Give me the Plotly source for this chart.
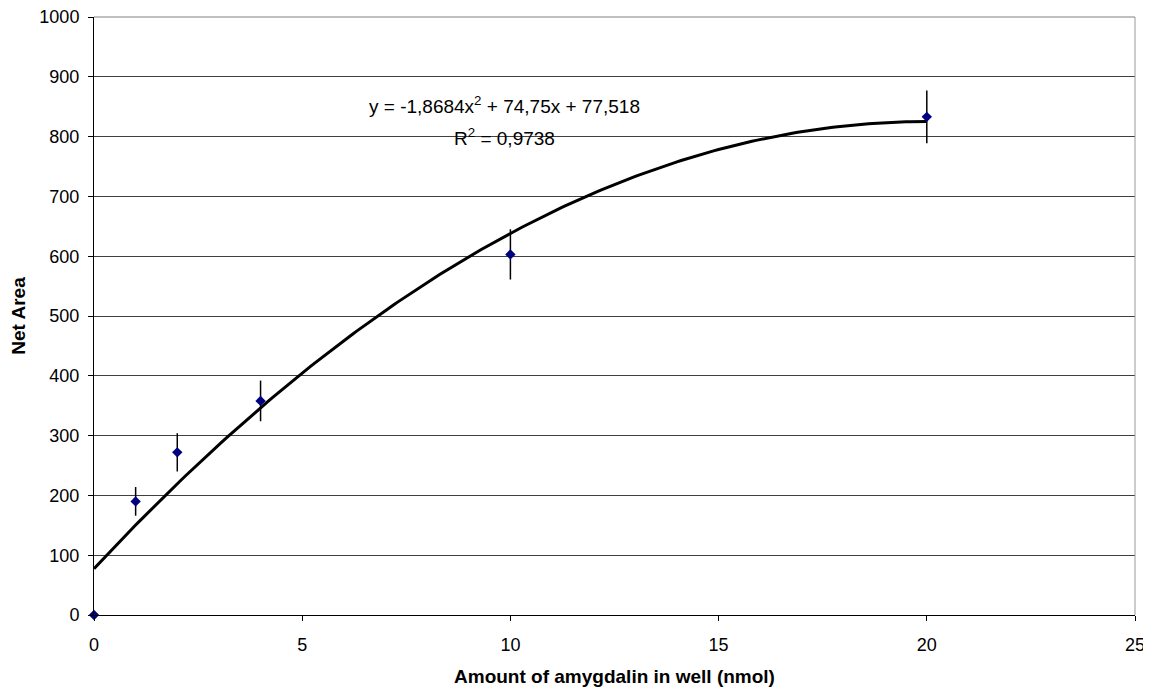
import numpy as np
import plotly.graph_objects as go

# Data
amount_nmol = [0, 1, 2, 4, 10, 20]
net_area = [0, 190, 272, 358, 603, 833]
net_area_err = [0, 24, 32, 34, 42, 44]

# Trendline coefficients (from chart label)
coef_a, coef_b, coef_c = -1.8684, 74.75, 77.518
trend_x = np.linspace(0, 20, 201)
trend_y = coef_a * trend_x**2 + coef_b * trend_x + coef_c

x_ticks = [0, 5, 10, 15, 20, 25]
y_ticks = list(range(0, 1001, 100))

fig = go.Figure()

fig.add_trace(go.Scatter(
    x=trend_x, y=trend_y, mode="lines",
    line=dict(color="black", width=3),
    hoverinfo="skip", showlegend=False,
))

fig.add_trace(go.Scatter(
    x=amount_nmol, y=net_area, mode="markers",
    marker=dict(symbol="diamond", color="#000080", size=8),
    error_y=dict(type="data", array=net_area_err, visible=True,
                 color="black", thickness=1.5, width=0),
    cliponaxis=False,
    showlegend=False,
))

font_family = "Liberation Sans, Arial, sans-serif"

fig.add_annotation(
    x=9.85, y=853, xref="x", yref="y", showarrow=False,
    text="y = -1,8684x<sup>2</sup> + 74,75x + 77,518",
    font=dict(family=font_family, size=19, color="black"),
)
fig.add_annotation(
    x=9.85, y=799, xref="x", yref="y", showarrow=False,
    text="R<sup>2</sup> = 0,9738",
    font=dict(family=font_family, size=19, color="black"),
)

fig.update_layout(
    width=1140, height=679,
    margin=dict(l=86, r=13, t=9, b=72),
    paper_bgcolor="white", plot_bgcolor="white",
    font=dict(family=font_family, size=18, color="black"),
    xaxis=dict(
        range=[0, 25], tickvals=x_ticks, showgrid=False,
        showline=True, linecolor="black", linewidth=1,
        ticks="outside", ticklen=5, tickcolor="black",
        zeroline=False, ticklabeloverflow="allow", automargin=False,
        ticklabelstandoff=8,
        title=dict(text="<b>Amount of amygdalin in well (nmol)</b>",
                   font=dict(size=19), standoff=22),
    ),
    yaxis=dict(
        range=[0, 1000], tickvals=y_ticks, showgrid=True,
        gridcolor="#404040", gridwidth=1,
        showline=True, linecolor="black", linewidth=1,
        ticks="outside", ticklen=5, tickcolor="black",
        zeroline=False, ticklabeloverflow="allow", automargin=False,
        ticklabelstandoff=5,
        title=dict(text="<b>Net Area</b>", font=dict(size=19), standoff=20),
    ),
    shapes=[
        dict(type="line", xref="paper", yref="paper",
             x0=1, x1=1, y0=0, y1=1,
             line=dict(color="#999999", width=1)),
        dict(type="line", xref="paper", yref="paper",
             x0=0, x1=1, y0=1, y1=1,
             line=dict(color="#808080", width=1)),
    ],
)

fig.write_html("out.html")
